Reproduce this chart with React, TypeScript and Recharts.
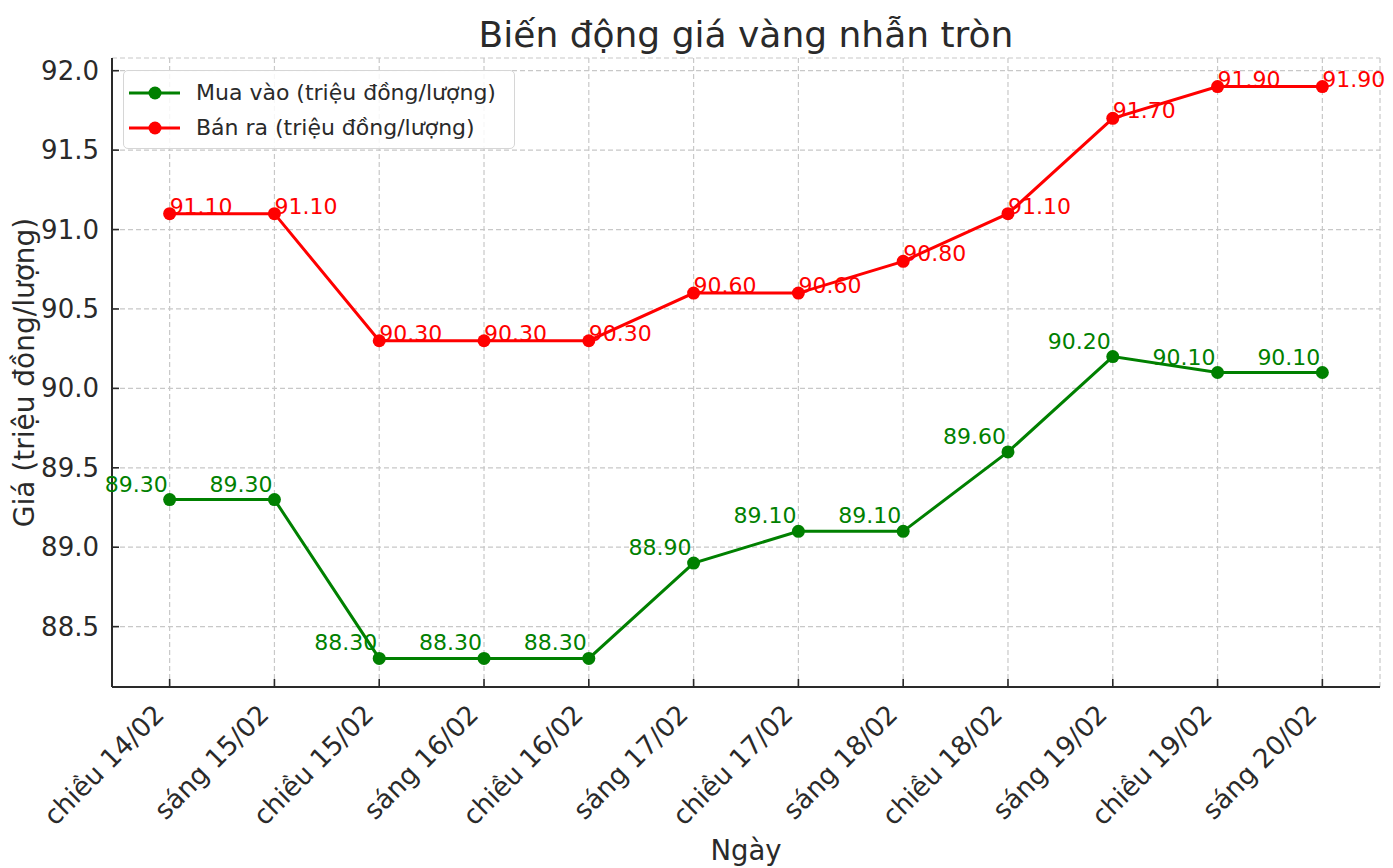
import React from 'react';
import { LineChart, Line, XAxis, YAxis, CartesianGrid, Label } from 'recharts';

const categories = [
  'chiều 14/02', 'sáng 15/02', 'chiều 15/02', 'sáng 16/02', 'chiều 16/02', 'sáng 17/02',
  'chiều 17/02', 'sáng 18/02', 'chiều 18/02', 'sáng 19/02', 'chiều 19/02', 'sáng 20/02',
];
const buyValues = [89.3, 89.3, 88.3, 88.3, 88.3, 88.9, 89.1, 89.1, 89.6, 90.2, 90.1, 90.1];
const sellValues = [91.1, 91.1, 90.3, 90.3, 90.3, 90.6, 90.6, 90.8, 91.1, 91.7, 91.9, 91.9];
const yTicks = [88.5, 89.0, 89.5, 90.0, 90.5, 91.0, 91.5, 92.0];
const buyName = 'Mua vào (triệu đồng/lượng)';
const sellName = 'Bán ra (triệu đồng/lượng)';
const title = 'Biến động giá vàng nhẫn tròn';
const xLabel = 'Ngày';
const yLabel = 'Giá (triệu đồng/lượng)';

const GREEN = '#008000';
const RED = '#ff0000';
const TEXT = '#2a2a2a';
const FONT = 'DejaVu Sans, sans-serif';

const data = categories.map((c, i) => ({ idx: i, cat: c, buy: buyValues[i], sell: sellValues[i] }));

const XTick = (props: any) => {
  const { x, y, payload } = props;
  const ex = x - 4;
  const ey = y + 21;
  return (
    <g>
      <line x1={x} x2={x} y1={y - 9} y2={y - 16} stroke={TEXT} strokeWidth={1.6} />
      <text
        x={ex}
        y={ey}
        transform={`rotate(-45, ${ex}, ${ey})`}
        textAnchor="end"
        fontSize={26.5}
        fontFamily={FONT}
        fill={TEXT}
      >
        {categories[payload.value]}
      </text>
    </g>
  );
};

const YTick = (props: any) => {
  const { x, y, payload } = props;
  return (
    <g>
      <line x1={x + 12} x2={x + 19} y1={y} y2={y} stroke={TEXT} strokeWidth={1.6} />
      <text x={x - 1} y={y} dy={9} textAnchor="end" fontSize={26} fontFamily={FONT} fill={TEXT}>
        {Number(payload.value).toFixed(1)}
      </text>
    </g>
  );
};

const SellLabel = (props: any) => {
  const { x, y, value } = props;
  return (
    <text x={x} y={y} textAnchor="start" fontSize={22} fontFamily={FONT} fill={RED}>
      {Number(value).toFixed(2)}
    </text>
  );
};

const BuyLabel = (props: any) => {
  const { x, y, value } = props;
  return (
    <text x={x - 2} y={y - 8} textAnchor="end" fontSize={22} fontFamily={FONT} fill={GREEN}>
      {Number(value).toFixed(2)}
    </text>
  );
};

const LegendBox = () => {
  const rows = [
    { name: buyName, color: GREEN },
    { name: sellName, color: RED },
  ];
  return (
    <div
      style={{
        position: 'absolute',
        left: 123,
        top: 70,
        border: '1.5px solid #d6d6d6',
        borderRadius: 5,
        background: 'rgba(255,255,255,0.85)',
        width: 392,
        height: 79,
        boxSizing: 'border-box',
        paddingTop: 4,
      }}
    >
      {rows.map((r) => (
        <div key={r.name} style={{ display: 'flex', alignItems: 'center', height: 35 }}>
          <svg width={70} height={20} style={{ marginLeft: 2 }}>
            <line x1={3} x2={54} y1={10} y2={10} stroke={r.color} strokeWidth={3} />
            <circle cx={29} cy={10} r={6.5} fill={r.color} />
          </svg>
          <span style={{ fontFamily: FONT, fontSize: 22, color: TEXT }}>{r.name}</span>
        </div>
      ))}
    </div>
  );
};

const YLabelContent = (props: any) => {
  const { viewBox } = props;
  const cx = viewBox.x + 24;
  const cy = viewBox.y + viewBox.height / 2;
  return (
    <text
      x={cx}
      y={cy}
      transform={`rotate(-90, ${cx}, ${cy})`}
      textAnchor="middle"
      dy={10}
      fontSize={28}
      fontFamily={FONT}
      fill={TEXT}
    >
      {yLabel}
    </text>
  );
};

const XLabelContent = (props: any) => {
  const { viewBox } = props;
  const cx = viewBox.x + viewBox.width / 2;
  return (
    <text x={cx} y={860} textAnchor="middle" fontSize={27.5} fontFamily={FONT} fill={TEXT}>
      {xLabel}
    </text>
  );
};

export default function App() {
  return (
    <div style={{ position: 'absolute', left: 0, top: 0, width: 1393, height: 868, background: '#fff' }}>
      <svg width={1393} height={60} style={{ position: 'absolute', left: 0, top: 0 }}>
        <text x={746} y={47} textAnchor="middle" fontSize={36} fontFamily={FONT} fill={TEXT}>
          {title}
        </text>
      </svg>
      <div style={{ position: 'absolute', left: 0, top: 0 }}>
        <LineChart width={1393} height={868} data={data} margin={{ top: 58, right: 13, left: 0, bottom: 0 }}>
          <CartesianGrid stroke="#c8c8c8" strokeDasharray="5 3" strokeWidth={1.2} />
          <XAxis
            dataKey="idx"
            type="number"
            domain={[-0.55, 11.55]}
            ticks={categories.map((_, i) => i)}
            interval={0}
            height={181}
            tickLine={false}
            tick={<XTick />}
            axisLine={{ stroke: TEXT, strokeWidth: 2 }}
            allowDataOverflow
          >
            <Label content={<XLabelContent />} />
          </XAxis>
          <YAxis
            type="number"
            domain={[88.12, 92.08]}
            ticks={yTicks}
            interval={0}
            width={112}
            tickSize={0}
            tickMargin={12}
            tickLine={false}
            tick={<YTick />}
            axisLine={{ stroke: TEXT, strokeWidth: 2 }}
            allowDataOverflow
          >
            <Label content={<YLabelContent />} />
          </YAxis>
          <Line
            dataKey="buy"
            name={buyName}
            stroke={GREEN}
            strokeWidth={3}
            dot={{ r: 6.5, fill: GREEN, stroke: GREEN, strokeWidth: 0 }}
            activeDot={false}
            isAnimationActive={false}
            label={<BuyLabel />}
          />
          <Line
            dataKey="sell"
            name={sellName}
            stroke={RED}
            strokeWidth={3}
            dot={{ r: 6.5, fill: RED, stroke: RED, strokeWidth: 0 }}
            activeDot={false}
            isAnimationActive={false}
            label={<SellLabel />}
          />
        </LineChart>
      </div>
      <LegendBox />
    </div>
  );
}
